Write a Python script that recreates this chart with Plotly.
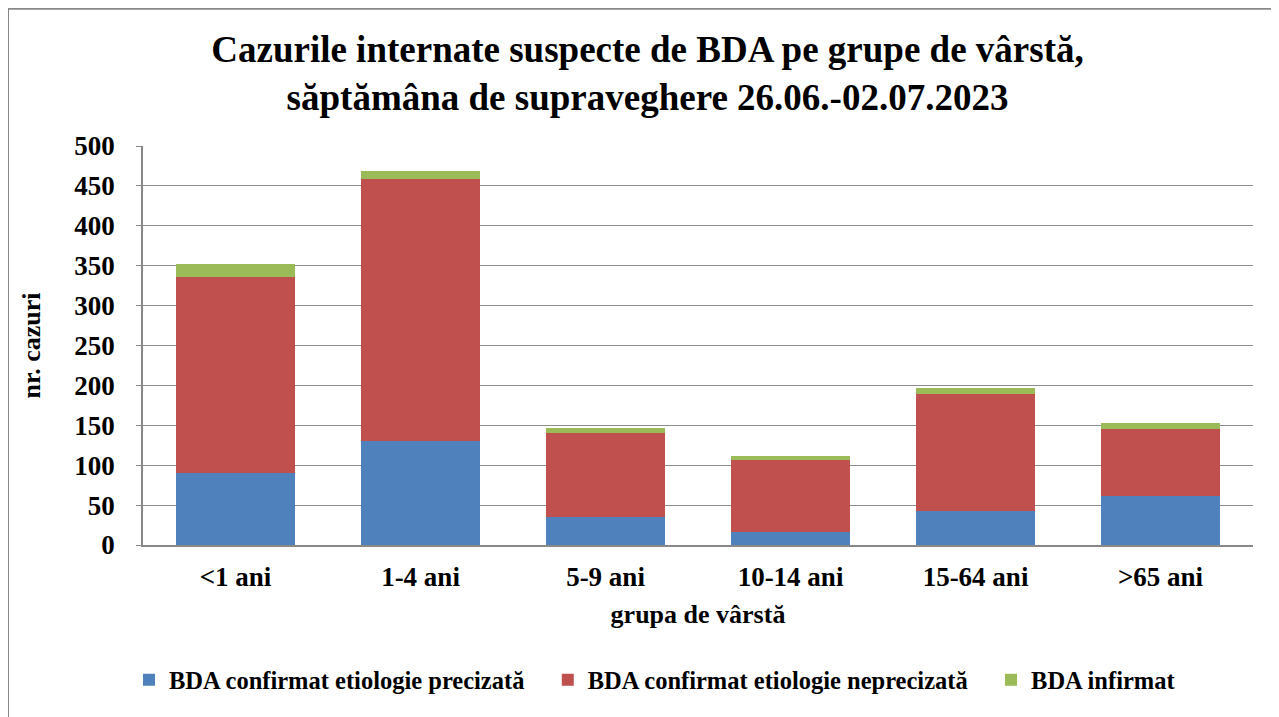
import plotly.graph_objects as go

categories = ["<1 ani", "1-4 ani", "5-9 ani", "10-14 ani", "15-64 ani", ">65 ani"]
confirmat_precizata = [90, 130, 35, 16, 43, 61]
confirmat_neprecizata = [246, 329, 105, 90, 146, 84]
infirmat = [16, 10, 7, 5, 8, 8]
y_ticks = [0, 50, 100, 150, 200, 250, 300, 350, 400, 450, 500]

FONT = "Liberation Serif, Times New Roman, serif"
PAD = "\u00a0" * 3

fig = go.Figure()
series = [
    ("BDA confirmat etiologie precizată" + PAD, confirmat_precizata, "#4F81BD"),
    ("BDA confirmat etiologie neprecizată" + PAD, confirmat_neprecizata, "#C0504D"),
    ("BDA infirmat", infirmat, "#9BBB59"),
]
for name, vals, col in series:
    fig.add_trace(go.Bar(x=categories, y=vals, name=name, marker_color=col,
                         marker_line_width=0))

fig.update_layout(
    barmode="stack",
    bargap=0.36,
    width=1279, height=717,
    margin=dict(l=135, r=34, t=138, b=180),
    paper_bgcolor="white", plot_bgcolor="white",
    font=dict(family=FONT, color="black", size=24, weight="bold"),
    title=dict(text="Cazurile internate suspecte de BDA pe grupe de vârstă,<br>săptămâna de supraveghere 26.06.-02.07.2023",
               x=0.5, xanchor="center", y=0.925, yanchor="middle",
               font=dict(family=FONT, size=37, color="black", weight="bold")),
    xaxis=dict(title=dict(text="grupa de vârstă", font=dict(size=26, weight="bold"), standoff=14),
               tickfont=dict(size=27, weight="bold"), ticklabelstandoff=7,
               showline=True, linecolor="#888888", linewidth=1.5,
               ticks="", showgrid=False),
    yaxis=dict(title=dict(text="nr. cazuri", font=dict(size=26, weight="bold"), standoff=26),
               range=[0, 500], tickvals=y_ticks,
               tickfont=dict(size=27, weight="bold"), ticklabelstandoff=16,
               showgrid=True, gridcolor="#8c8c8c", gridwidth=1.2,
               showline=True, linecolor="#888888", linewidth=1.5,
               ticks="outside", ticklen=5, tickcolor="#888888",
               zeroline=False),
    legend=dict(orientation="h", x=-0.0126, xanchor="left", y=-0.338, yanchor="middle",
                font=dict(size=24.5, weight="bold"), traceorder="normal",
                itemwidth=30),
    shapes=[
        dict(type="line", xref="paper", yref="paper",
             x0=-0.1216, x1=1.03, y0=1.344, y1=1.344,
             line=dict(color="#888888", width=2)),
        dict(type="line", xref="paper", yref="paper",
             x0=-0.1216, x1=-0.1216, y0=1.344, y1=-0.45,
             line=dict(color="#888888", width=2)),
    ],
)

fig.write_html("out.html")
